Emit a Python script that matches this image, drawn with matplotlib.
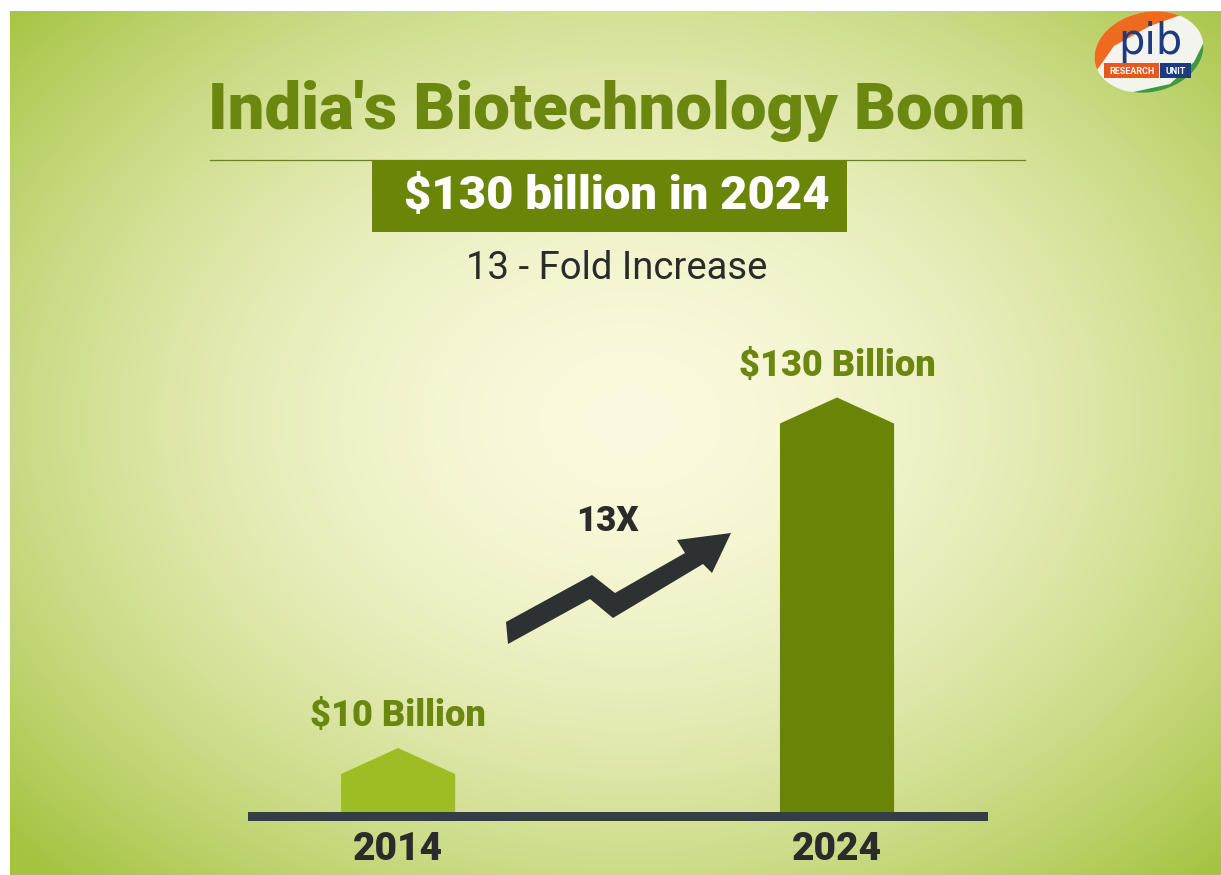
import numpy as np
import matplotlib
matplotlib.use('Agg')
from matplotlib import pyplot as plt
from matplotlib.patches import Polygon, Ellipse, Rectangle

# chart data
years = ['2014', '2024']
values = [10, 130]
value_labels = ['$10 Billion', '$130 Billion']
bar_colors = ['#9ebd25', '#6a8506']

title = "India's Biotechnology Boom"
headline = '$130 billion in 2024'
subtitle = '13 - Fold Increase'
growth_label = '13X'

W, H = 1221, 875
GREEN = '#6b8710'
DARK = '#2b2b2b'
FONT = 'Roboto'

fig = plt.figure(figsize=(W / 100, H / 100), dpi=100)
fig.patch.set_facecolor('white')

# background axes in pixel coordinates (y downwards)
bg = fig.add_axes([10 / W, 0, (W - 10) / W, (H - 11) / H])
bg.set_xlim(10, W)
bg.set_ylim(H, 11)
bg.axis('off')

# radial gradient, pale in the middle and green towards the edges
yy, xx = np.mgrid[11:H, 10:W].astype(float)
r = np.sqrt(((xx - 630) / 740) ** 2 + ((yy - 420) / 560) ** 2) / 1.12
t = np.clip(r, 0, 1) ** 1.8
centre = np.array([251, 249, 221]) / 255
edge = np.array([165, 196, 66]) / 255
img = centre + (edge - centre) * t[..., None]
bg.imshow(img, extent=(10, W, H, 11), aspect='auto', zorder=0)

# title, rule, headline box and subtitle
bg.text(617, 111, title, ha='center', va='center', fontsize=47, fontweight='heavy',
        color=GREEN, family=FONT, zorder=3)
bg.plot([210, 1025], [160, 160], color='#6b8020', lw=0.9, zorder=3)
bg.add_patch(Rectangle((372, 160), 475, 72, facecolor='#6a8507', edgecolor='none', zorder=3))
bg.text(617, 196, headline, ha='center', va='center', fontsize=34, fontweight='heavy',
        color='white', family=FONT, zorder=4)
bg.text(617, 268, subtitle, ha='center', va='center', fontsize=27.5,
        color=DARK, family=FONT, zorder=3)

# zigzag growth arrow
arrow_pts = [(506, 622), (592, 575), (615, 593), (685, 553), (677, 540), (731, 533),
             (712, 573), (703, 564), (613, 618), (590, 599), (508, 644)]
bg.add_patch(Polygon(arrow_pts, closed=True, facecolor='#2e3131', edgecolor='none', zorder=3))
bg.text(607, 521, growth_label, ha='center', va='center', fontsize=25, fontweight='heavy',
        color=DARK, family=FONT, zorder=3)

# logo (simplified)
logo = Ellipse((1149, 52), 110, 80, angle=-12, facecolor='#f4f4ee', edgecolor='none', zorder=3)
bg.add_patch(logo)
orange = Polygon([(1090, 10), (1195, 10), (1150, 26), (1114, 46), (1090, 80)], closed=True,
                 facecolor='#ee6a1f', edgecolor='none', zorder=4)
green = Polygon([(1210, 30), (1210, 95), (1120, 95), (1170, 84), (1194, 62)], closed=True,
                facecolor='#3e9a3a', edgecolor='none', zorder=4)
for p in (orange, green):
    bg.add_patch(p)
    p.set_clip_path(logo)
bg.text(1150, 42, 'pib', ha='center', va='center', fontsize=30, color='#1f3b80',
        family='DejaVu Sans', zorder=5)
bg.add_patch(Rectangle((1104, 63), 55, 15, facecolor='#e8571c', edgecolor='none', zorder=5))
bg.add_patch(Rectangle((1160, 63), 31, 15, facecolor='#1f3b80', edgecolor='none', zorder=5))
bg.text(1131.5, 71, 'RESEARCH', ha='center', va='center', fontsize=6.5, fontweight='bold',
        color='white', family=FONT, zorder=6)
bg.text(1175.5, 71, 'UNIT', ha='center', va='center', fontsize=6.5, fontweight='bold',
        color='white', family=FONT, zorder=6)

# bar chart axes (log scale so both bars read well)
ax = fig.add_axes([248 / W, (H - 812) / H, 740 / W, 462 / H])
ax.set_yscale('log')
ax.set_ylim(6.26, 184)
ax.set_xlim(-0.342, 1.344)
ax.patch.set_alpha(0)
ax.axis('off')

bw = 0.26
roof = 1.21
for i, (v, c) in enumerate(zip(values, bar_colors)):
    lo = ax.get_ylim()[0]
    ax.fill([i - bw / 2, i - bw / 2, i, i + bw / 2, i + bw / 2],
            [lo, v / roof, v, v / roof, lo], color=c, lw=0, zorder=2)
    ax.annotate(value_labels[i], xy=(i, v), xytext=(0, 23), textcoords='offset points',
                ha='center', va='center', fontsize=26, fontweight='heavy',
                color=GREEN, family=FONT)
    ax.annotate(years[i], xy=(i, 0), xycoords=('data', 'axes fraction'), xytext=(0, -27),
                textcoords='offset points', ha='center', va='center', fontsize=28,
                fontweight='heavy', color=DARK, family=FONT, annotation_clip=False)

# baseline
fig.add_artist(Rectangle((248 / W, (H - 821) / H), 740 / W, 9 / H,
                         transform=fig.transFigure, facecolor='#363f3f', edgecolor='none'))

fig.savefig('out.png', dpi=100)
